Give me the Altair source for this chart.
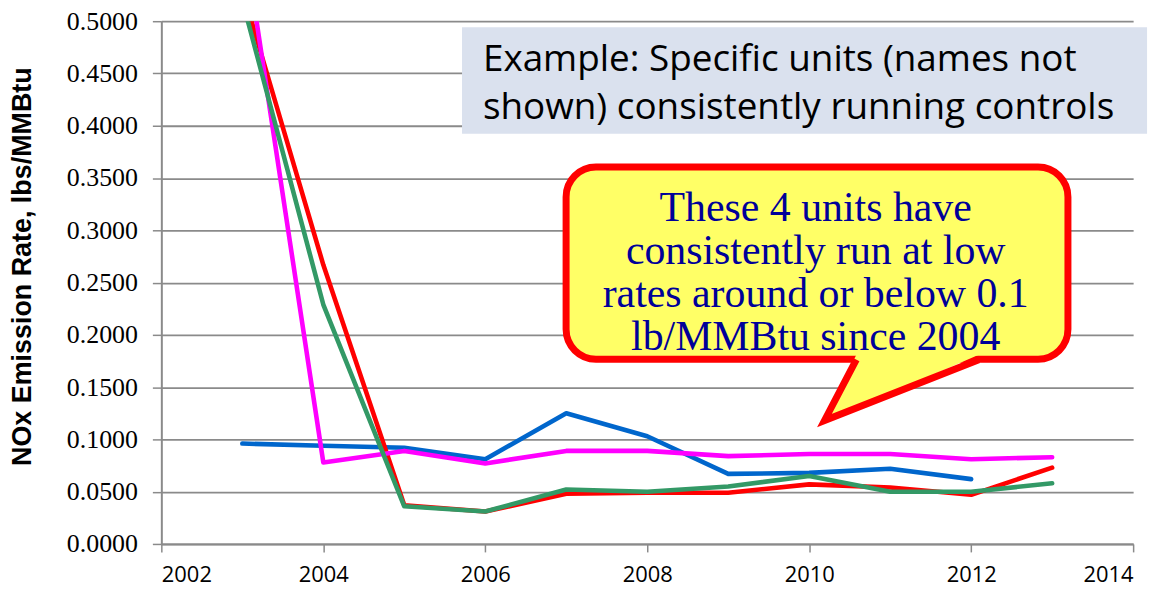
import altair as alt
import pandas as pd

# ---- data ----
years = [2003, 2004, 2005, 2006, 2007, 2008, 2009, 2010, 2011, 2012, 2013]
unit_names = ["Unit 1", "Unit 2", "Unit 3", "Unit 4"]
unit1 = [0.096, 0.094, 0.092, 0.081, 0.125, 0.103, 0.067, 0.068, 0.072, 0.062, None]
unit2 = [0.530, 0.267, 0.037, 0.031, 0.048, 0.049, 0.049, 0.057, 0.054, 0.047, 0.073]
unit3 = [0.590, 0.078, 0.089, 0.077, 0.089, 0.089, 0.084, 0.086, 0.086, 0.081, 0.083]
unit4 = [0.520, 0.229, 0.036, 0.031, 0.052, 0.050, 0.055, 0.065, 0.050, 0.050, 0.058]
unit_colors = ["#0066CC", "#FF0000", "#FF00FF", "#339966"]

x_ticks = [2002, 2004, 2006, 2008, 2010, 2012, 2014]
y_ticks = [0.0, 0.05, 0.10, 0.15, 0.20, 0.25, 0.30, 0.35, 0.40, 0.45, 0.50]

y_title = "NOx Emission Rate, lbs/MMBtu"
note_lines = ["Example: Specific units (names not", "shown) consistently running controls"]
callout_lines = ["These 4 units have", "consistently run at low",
                 "rates around or below 0.1", "lb/MMBtu since 2004"]

rows = []
for name, vals in zip(unit_names, [unit1, unit2, unit3, unit4]):
    for yr, v in zip(years, vals):
        if v is not None:
            rows.append({"year": yr, "rate": v, "unit": name})
df = pd.DataFrame(rows)

xs = alt.Scale(domain=[2002, 2014], nice=False, zero=False)
ys = alt.Scale(domain=[0, 0.5], nice=False)

GRID = "#8a8a8a"

lines = alt.Chart(df).mark_line(strokeWidth=4.6, clip=True, strokeCap="round", strokeJoin="round").encode(
    x=alt.X("year:Q", scale=xs, axis=alt.Axis(values=x_ticks, format="d", title=None, grid=False)),
    y=alt.Y("rate:Q", scale=ys, axis=alt.Axis(values=y_ticks, format=".4f", title=y_title, grid=True)),
    color=alt.Color("unit:N", scale=alt.Scale(domain=unit_names, range=unit_colors), legend=None),
    order=alt.Order("year:Q"),
    detail="unit:N",
)

def X(f):
    return alt.X(f, scale=xs)

def Y(f):
    return alt.Y(f, scale=ys)

# ---- annotation: grey-blue note box ----
note_box = pd.DataFrame([{"x": 2005.713, "x2": 2014.172, "y": 0.4943, "y2": 0.3924}])
note_rect = alt.Chart(note_box).mark_rect(fill="#DAE1EE", clip=False).encode(
    x=X("x:Q"), x2="x2:Q", y=Y("y:Q"), y2="y2:Q")
note_text = alt.Chart(pd.DataFrame([{"x": 2005.971, "y": 0.4524, "t": note_lines}])).mark_text(
    align="left", baseline="alphabetic", font="Open Sans", fontSize=37, lineHeight=48,
    color="black", clip=False).encode(
    x=X("x:Q"), y=Y("y:Q"), text="t")

# ---- annotation: yellow speech bubble ----
bubble = pd.DataFrame([{"x": 2006.998, "x2": 2013.195, "y": 0.3605, "y2": 0.17667}])
bubble_rect = alt.Chart(bubble).mark_rect(fill="#FFFF66", stroke="#FF0000", strokeWidth=7,
                                          cornerRadius=30).encode(
    x=X("x:Q"), x2="x2:Q", y=Y("y:Q"), y2="y2:Q")
tail_fill_df = pd.DataFrame([
    {"x": 2010.189, "y": 0.1181, "y2": 0.1181},
    {"x": 2010.582, "y": 0.18095, "y2": 0.1301},
    {"x": 2012.094, "y": 0.18095, "y2": 0.18095},
])
tail_fill = alt.Chart(tail_fill_df).mark_area(fill="#FFFF66", opacity=1).encode(
    x=X("x:Q"), y=Y("y:Q"), y2="y2:Q")
tail_edge_df = pd.DataFrame([
    {"i": 0, "x": 2010.582, "y": 0.17619},
    {"i": 1, "x": 2010.189, "y": 0.1181},
    {"i": 2, "x": 2012.094, "y": 0.17619},
])
tail_edge = alt.Chart(tail_edge_df).mark_line(stroke="#FF0000", strokeWidth=7, strokeJoin="miter",
                                             strokeMiterLimit=10).encode(
    x=X("x:Q"), y=Y("y:Q"), order="i:Q")
bubble_text = alt.Chart(pd.DataFrame([{"x": 2010.08, "y": 0.3086, "t": callout_lines}])).mark_text(
    align="center", baseline="alphabetic", font="Liberation Serif", fontSize=42, lineHeight=43,
    color="#000099").encode(
    x=X("x:Q"), y=Y("y:Q"), text="t")

chart = alt.layer(lines, note_rect, note_text, bubble_rect, tail_fill, tail_edge, bubble_text).properties(
    width=976, height=525,
    autosize=alt.AutoSizeParams(type="none"),
    padding={"left": 154, "top": 12, "right": 30, "bottom": 46},
    background="white",
).configure_view(stroke=None).configure_axis(
    tickColor=GRID, tickWidth=1.5, domainColor=GRID, domainWidth=2,
    gridColor=GRID, gridWidth=1.8, labelColor="black", titleColor="black",
).configure_axisX(
    labelFont="Open Sans", labelFontSize=22, labelPadding=13, tickSize=8, grid=False,
).configure_axisY(
    labelFont="Liberation Serif", labelFontSize=26, labelPadding=15, tickSize=9,
    titleFont="Liberation Sans", titleFontWeight="bold", titleFontSize=27,
    titleAngle=-90, titleBaseline="middle", titleAlign="center", titleX=-139, titleY=246,
)

chart.save("out.html", embed_options={"renderer": "svg", "actions": False})
